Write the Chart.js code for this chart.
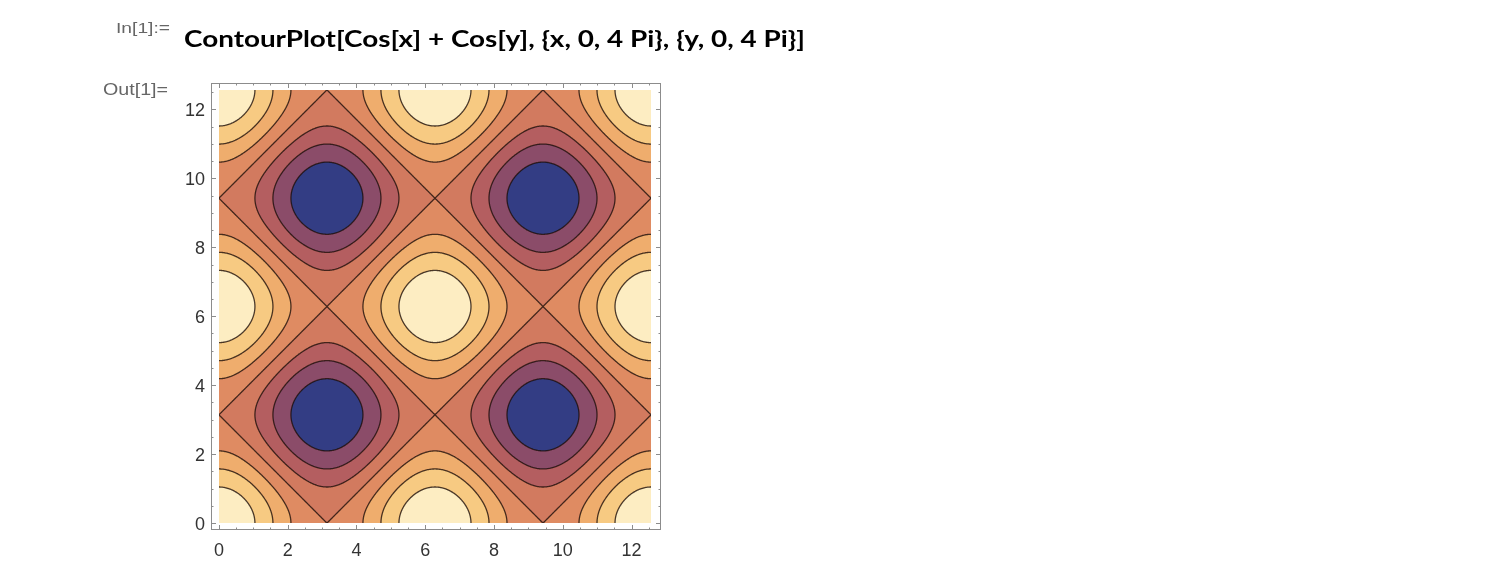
<!DOCTYPE html>
<html>
<head>
<meta charset="utf-8">
<script src="https://cdn.jsdelivr.net/npm/chart.js@4.4.1/dist/chart.umd.min.js"></script>
<style>
  body { margin: 0; background: #fff; }
  #wrap { position: relative; width: 1506px; height: 580px; }
  #wrap canvas { position: absolute; left: 0; top: 0; }
  .lbl { position: absolute; white-space: nowrap; line-height: 1; transform-origin: 0 0; }
  #inLbl { left: 116px; top: 20px; font: 14px "Liberation Sans", sans-serif; color: #666; }
  #outLbl { left: 103px; top: 81px; font: 16px "Liberation Sans", sans-serif; color: #666; }
  #code { left: 184px; top: 24px; font: 700 23.5px "Lato", sans-serif; color: #000; }
</style>
</head>
<body>
<div id="wrap">
  <canvas id="myChart" width="1506" height="580"></canvas>
  <div class="lbl" id="inLbl" data-w="54">In[1]:=</div>
  <div class="lbl" id="outLbl" data-w="65">Out[1]=</div>
  <div class="lbl" id="code" data-w="621">ContourPlot[Cos[x] + Cos[y], {x, 0, 4 Pi}, {y, 0, 4 Pi}]</div>
</div>
<script>
  // the plotted surface, as typed in the input cell
  function cosSum(x, y) { return Math.cos(x) + Math.cos(y); }

  var xRange = [0, 4 * Math.PI];
  var yRange = [0, 4 * Math.PI];
  var contourLevels = [-1.5, -1, -0.5, 0, 0.5, 1, 1.5];
  var bandColors = ["#333d84", "#8b4c69", "#b45e60", "#d27a5f", "#df8b62", "#efad6d", "#f7ca82", "#fdedc2"];
  var xTicks = [0, 2, 4, 6, 8, 10, 12];
  var yTicks = [0, 2, 4, 6, 8, 10, 12];
  var minorTicks = [0.5, 1, 1.5, 2.5, 3, 3.5, 4.5, 5, 5.5, 6.5, 7, 7.5, 8.5, 9, 9.5, 10.5, 11, 11.5, 12.5];

  // fit the notebook labels to their widths in the picture
  document.querySelectorAll('.lbl').forEach(function (el) {
    var w = el.getBoundingClientRect().width;
    el.style.transform = 'scaleX(' + (el.dataset.w / w) + ')';
  });

  function hexToRgb(h) {
    return [parseInt(h.substr(1, 2), 16), parseInt(h.substr(3, 2), 16), parseInt(h.substr(5, 2), 16)];
  }

  function bandOf(v) {
    var b = 0;
    while (b < contourLevels.length && v > contourLevels[b]) b++;
    return b;
  }

  function edgePt(x1, y1, v1, x2, y2, v2, L) {
    var t = (L - v1) / (v2 - v1);
    return [x1 + t * (x2 - x1), y1 + t * (y2 - y1)];
  }

  var contourPlugin = {
    id: 'contour',
    beforeDatasetsDraw: function (chart) {
      var ctx = chart.ctx, xs = chart.scales.x, ys = chart.scales.y, area = chart.chartArea;
      var left = Math.round(xs.getPixelForValue(xRange[0]));
      var right = Math.round(xs.getPixelForValue(xRange[1]));
      var top = Math.round(ys.getPixelForValue(yRange[1]));
      var bottom = Math.round(ys.getPixelForValue(yRange[0]));
      var w = right - left, h = bottom - top;

      // filled bands
      var off = document.createElement('canvas');
      off.width = w; off.height = h;
      var octx = off.getContext('2d');
      var img = octx.createImageData(w, h);
      var rgb = bandColors.map(hexToRgb);
      for (var j = 0; j < h; j++) {
        var y = ys.getValueForPixel(top + j + 0.5);
        for (var i = 0; i < w; i++) {
          var x = xs.getValueForPixel(left + i + 0.5);
          var c = rgb[bandOf(cosSum(x, y))];
          var k = (j * w + i) * 4;
          img.data[k] = c[0]; img.data[k + 1] = c[1]; img.data[k + 2] = c[2]; img.data[k + 3] = 255;
        }
      }
      octx.putImageData(img, 0, 0);
      ctx.drawImage(off, left, top);

      // contour lines (marching squares)
      var n = 503;
      var dx = (xRange[1] - xRange[0]) / n, dy = (yRange[1] - yRange[0]) / n;
      var g = [];
      for (var jj = 0; jj <= n; jj++) {
        var row = [];
        for (var ii = 0; ii <= n; ii++) row.push(cosSum(xRange[0] + ii * dx, yRange[0] + jj * dy));
        g.push(row);
      }
      ctx.save();
      ctx.beginPath();
      ctx.rect(left, top, w, h);
      ctx.clip();
      ctx.strokeStyle = 'rgba(30,15,10,0.8)';
      ctx.lineWidth = 1.3;
      ctx.lineCap = 'round';
      ctx.beginPath();
      function seg(p, q) {
        ctx.moveTo(xs.getPixelForValue(p[0]), ys.getPixelForValue(p[1]));
        ctx.lineTo(xs.getPixelForValue(q[0]), ys.getPixelForValue(q[1]));
      }
      contourLevels.forEach(function (L) {
        for (var j = 0; j < n; j++) {
          var y0 = yRange[0] + j * dy, y1 = y0 + dy;
          for (var i = 0; i < n; i++) {
            var x0 = xRange[0] + i * dx, x1 = x0 + dx;
            var a = g[j][i], b = g[j][i + 1], c = g[j + 1][i + 1], d = g[j + 1][i];
            var sa = a > L, sb = b > L, sc = c > L, sd = d > L;
            if (sa === sb && sb === sc && sc === sd) continue;
            var pts = [null, null, null, null];
            if (sa !== sb) pts[0] = edgePt(x0, y0, a, x1, y0, b, L);
            if (sb !== sc) pts[1] = edgePt(x1, y0, b, x1, y1, c, L);
            if (sc !== sd) pts[2] = edgePt(x1, y1, c, x0, y1, d, L);
            if (sd !== sa) pts[3] = edgePt(x0, y1, d, x0, y0, a, L);
            var got = pts.filter(function (p) { return p; });
            if (got.length === 2) {
              seg(got[0], got[1]);
            } else if (got.length === 4) {
              var sameAsA = ((a + b + c + d) / 4 > L) === sa;
              if (sameAsA) { seg(pts[0], pts[1]); seg(pts[2], pts[3]); }
              else { seg(pts[3], pts[0]); seg(pts[1], pts[2]); }
            }
          }
        }
      });
      ctx.stroke();
      ctx.restore();

      // frame with inward ticks on all four sides
      ctx.save();
      ctx.strokeStyle = '#8c8c8c';
      ctx.lineWidth = 1;
      ctx.strokeRect(area.left + 0.5, area.top + 0.5, area.width - 1, area.height - 1);
      ctx.beginPath();
      function xTick(v, len) {
        var p = Math.round(xs.getPixelForValue(v)) + 0.5;
        ctx.moveTo(p, area.bottom); ctx.lineTo(p, area.bottom - len);
        ctx.moveTo(p, area.top); ctx.lineTo(p, area.top + len);
      }
      function yTick(v, len) {
        var p = Math.round(ys.getPixelForValue(v)) + 0.5;
        ctx.moveTo(area.left, p); ctx.lineTo(area.left + len, p);
        ctx.moveTo(area.right, p); ctx.lineTo(area.right - len, p);
      }
      xTicks.forEach(function (v) { xTick(v, 5); });
      yTicks.forEach(function (v) { yTick(v, 5); });
      minorTicks.forEach(function (v) { xTick(v, 2.5); yTick(v, 2.5); });
      ctx.stroke();
      ctx.restore();
    }
  };

  var tickFont = { family: 'Liberation Sans', size: 18 };

  new Chart("myChart", {
    type: "scatter",
    data: { datasets: [{ data: [] }] },
    plugins: [contourPlugin],
    options: {
      responsive: false,
      animation: false,
      events: [],
      layout: { padding: { left: 161, top: 83, right: 845, bottom: 10 } },
      plugins: { legend: { display: false }, tooltip: { enabled: false } },
      scales: {
        x: {
          type: 'linear',
          min: xRange[0] - 0.23,
          max: xRange[1] + 0.29,
          afterBuildTicks: function (s) { s.ticks = xTicks.map(function (v) { return { value: v }; }); },
          afterFit: function (s) { s.height = 40; },
          grid: { display: false, drawTicks: false },
          border: { display: false },
          ticks: { font: tickFont, color: '#333', padding: 10, maxRotation: 0, autoSkip: false }
        },
        y: {
          type: 'linear',
          min: yRange[0] - 0.2,
          max: yRange[1] + 0.2,
          afterBuildTicks: function (s) { s.ticks = yTicks.map(function (v) { return { value: v }; }); },
          afterFit: function (s) { s.width = 50; },
          grid: { display: false, drawTicks: false },
          border: { display: false },
          ticks: { font: tickFont, color: '#333', padding: 6, labelOffset: 2, autoSkip: false }
        }
      }
    }
  });
</script>
</body>
</html>
